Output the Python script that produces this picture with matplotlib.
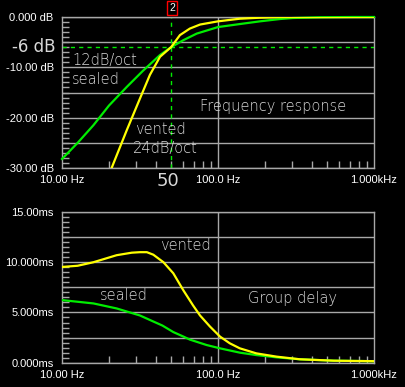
import numpy as np
import matplotlib
matplotlib.use("Agg")
from matplotlib import pyplot as plt
from matplotlib.ticker import FixedLocator, FixedFormatter, NullFormatter

# frequency response (dB)
f_sealed = [10, 12.6, 15.9, 20, 26, 33, 42.5, 50, 60, 73, 100, 138, 186, 250, 302, 450, 730, 1000]
db_sealed = [-28.2, -25.0, -21.5, -17.6, -13.9, -10.7, -7.55, -6.0, -4.6, -3.3, -2.0, -1.4,
             -0.86, -0.4, -0.2, -0.05, 0.0, 0.0]
f_vented = [20.8, 26, 31.6, 36.6, 42.5, 50, 57, 66, 76.7, 100, 138, 186, 250, 1000]
db_vented = [-30.0, -22.5, -16.2, -11.5, -7.9, -6.0, -3.6, -2.3, -1.5, -0.86, -0.34, -0.14,
             -0.03, 0.0]

# group delay (ms)
fg_vented = [10, 12.6, 15.9, 22.4, 28, 31.6, 35, 38.5, 44.7, 51.7, 60, 69.2, 76.7, 88.8,
             103, 119, 138, 176, 238, 335, 550, 1000]
gd_vented = [9.53, 9.65, 10.0, 10.7, 10.95, 11.0, 11.0, 10.75, 10.0, 8.9, 7.2, 5.7, 4.7, 3.6,
             2.6, 1.93, 1.43, 0.93, 0.6, 0.34, 0.2, 0.15]
fg_sealed = [10, 15.9, 22.4, 31.6, 38.5, 44, 51.7, 60, 66, 84.5, 103, 138, 176, 238, 335,
             550, 1000]
gd_sealed = [6.23, 5.9, 5.4, 4.7, 4.1, 3.7, 3.05, 2.6, 2.3, 1.76, 1.43, 1.0, 0.76, 0.53, 0.34,
             0.2, 0.15]

x_ticks = [10, 100, 1000]
x_labels = ["10.00 Hz", "100.0 Hz", "1.000kHz"]
db_ticks = [0, -10, -20, -30]
db_labels = ["0.000 dB", "-10.00 dB", "-20.00 dB", "-30.00 dB"]
ms_ticks = [0, 5, 10, 15]
ms_labels = ["0.000ms", "5.000ms", "10.000ms", "15.00ms"]

GRID = "#a8a8a8"
YEL = "#ffff00"
GRN = "#00ee00"
HAND = "#d8d8d8"

fig = plt.figure(figsize=(4.05, 3.87), dpi=100, facecolor="black")
ax1 = fig.add_axes([62/405, 1-168/387, 312/405, 151/387])
ax2 = fig.add_axes([62/405, 1-362.7/387, 312/405, 150.7/387])

minor_x = [20, 30, 40, 50, 60, 70, 80, 90, 200, 300, 400, 500, 600, 700, 800, 900]


def style(ax, ylim, yt, yl, grid_step, minor_step):
    ax.set_facecolor("black")
    ax.set_xscale("log")
    ax.set_xlim(10, 1000)
    ax.set_ylim(*ylim)
    for s in ax.spines.values():
        s.set_color(GRID)
        s.set_linewidth(1)
    ax.xaxis.set_major_locator(FixedLocator(x_ticks))
    ax.xaxis.set_major_formatter(FixedFormatter(x_labels))
    ax.xaxis.set_minor_locator(FixedLocator(minor_x))
    ax.xaxis.set_minor_formatter(NullFormatter())
    ax.yaxis.set_major_locator(FixedLocator(yt))
    ax.yaxis.set_major_formatter(FixedFormatter(yl))
    lo, hi = ylim
    ax.yaxis.set_minor_locator(FixedLocator(np.arange(lo, hi + 0.001, minor_step)))
    ax.tick_params(which="both", direction="in", colors=GRID, width=1)
    ax.tick_params(which="major", length=0, labelcolor="white", labelsize=8, pad=6)
    ax.tick_params(which="minor", length=5)
    ax.tick_params(axis="x", which="major", pad=5)
    for y in np.arange(lo, hi + 0.001, grid_step):
        ax.axhline(y, color=GRID, lw=1, zorder=1)
    ax.axvline(100, color=GRID, lw=1, zorder=1)
    for lab in ax.get_xticklabels() + ax.get_yticklabels():
        lab.set_fontfamily("Liberation Sans")
    ax.get_xticklabels()[-1].set_horizontalalignment("center")


style(ax1, (-30, 0), db_ticks, db_labels, 5, 1)
style(ax2, (0, 15), ms_ticks, ms_labels, 2.5, 0.5)

ax1.plot(f_sealed, db_sealed, color=GRN, lw=1.6, zorder=3, clip_on=False)
ax1.plot(f_vented, db_vented, color=YEL, lw=1.6, zorder=4, clip_on=True)
ax1.axhline(-6, color=GRN, lw=1, ls=(0, (3, 3)), zorder=2)
ax1.axvline(50, color=GRN, lw=1, ls=(0, (3, 3)), zorder=2)

ax2.plot(fg_sealed, gd_sealed, color=GRN, lw=1.6, zorder=3)
ax2.plot(fg_vented, gd_vented, color=YEL, lw=1.6, zorder=4)

hand = dict(color=HAND, fontsize=10.5, family="DejaVu Sans", fontweight="light")
fig.text(12/405, 1-47/387, "-6 dB", va="center", ha="left", color=HAND, fontsize=12)
fig.text(72/405, 1-60/387, "12dB/oct", va="center", **hand)
fig.text(72/405, 1-80/387, "sealed", va="center", **hand)
fig.text(200/405, 1-106/387, "Frequency response", va="center", **hand)
fig.text(135/405, 1-130/387, "vented", va="center", **hand)
fig.text(133/405, 1-148/387, "24dB/oct", va="center", **hand)
fig.text(168/405, 1-181/387, "50", va="center", ha="center", color=HAND, fontsize=13)
fig.text(160/405, 1-246/387, "vented", va="center", **hand)
fig.text(100/405, 1-296/387, "sealed", va="center", **hand)
fig.text(248/405, 1-299/387, "Group delay", va="center", **hand)

fig.text(172/405, 1-8/387, "2", va="center", ha="center", color="white",
         fontsize=7.5, family="Liberation Sans",
         bbox=dict(boxstyle="square,pad=0.2", fc="black", ec="red", lw=1))

fig.savefig("out.png", dpi=100, facecolor="black")
